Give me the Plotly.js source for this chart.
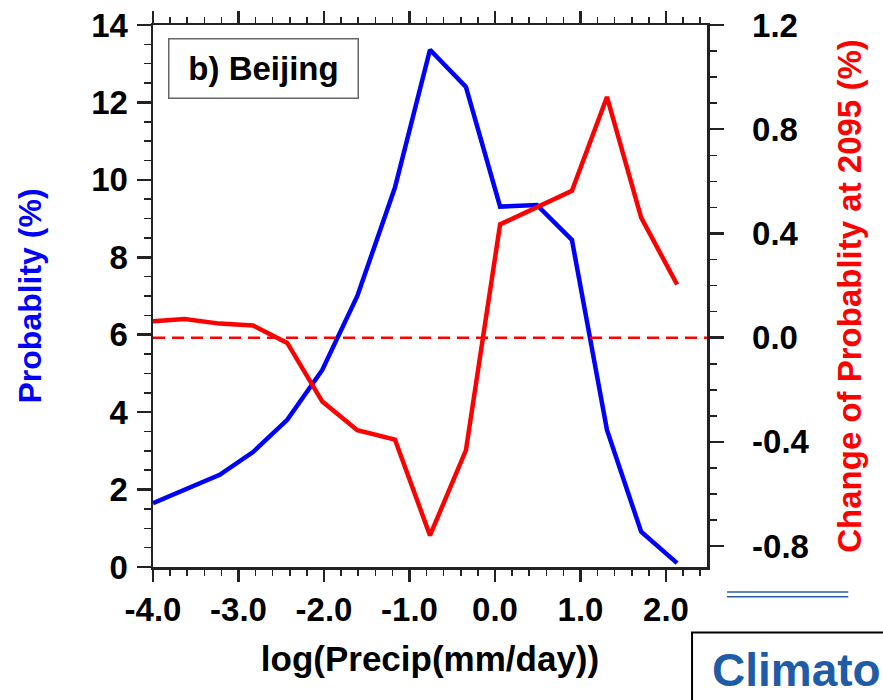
<!DOCTYPE html>
<html>
<head>
<meta charset="utf-8">
<script src="https://cdn.plot.ly/plotly-3.0.1.min.js"></script>
<style>html,body{margin:0;padding:0;background:#fff;}#chart{width:883px;height:700px;}</style>
</head>
<body>
<div id="chart"></div>
<script>
// x positions: log(Precip(mm/day)) bin values
const logPrecip = [-4.0, -3.63, -3.22, -2.83, -2.43, -2.02, -1.61, -1.17, -0.76, -0.34, 0.06, 0.49, 0.90, 1.31, 1.71, 2.13];
// Probability (%) — blue, left axis
const probability = [1.65, 1.99, 2.38, 2.97, 3.80, 5.09, 7.0, 9.8, 13.36, 12.4, 9.31, 9.35, 8.45, 3.54, 0.91, 0.10];
// Change of probability at 2095 (%) — red, right axis
const changeProb = [0.063, 0.072, 0.054, 0.047, -0.020, -0.245, -0.355, -0.391, -0.759, -0.432, 0.435, 0.50, 0.564, 0.924, 0.461, 0.204];

const xTickVals = [-4, -3, -2, -1, 0, 1, 2];
const xTickText = ["-4.0", "-3.0", "-2.0", "-1.0", "0.0", "1.0", "2.0"];
const yTickVals = [0, 2, 4, 6, 8, 10, 12, 14];
const yTickText = ["0", "2", "4", "6", "8", "10", "12", "14"];
const y2TickVals = [-0.8, -0.4, 0, 0.4, 0.8, 1.2];
const y2TickText = ["-0.8", "-0.4", "0.0", "0.4", "0.8", "1.2"];

const FONT = "Liberation Sans, Arial, sans-serif";
const AX = "#222";

const traces = [
  {x: logPrecip, y: probability, type: "scatter", mode: "lines", yaxis: "y",
   line: {color: "#0000ff", width: 4.5}, hoverinfo: "skip", showlegend: false},
  {x: logPrecip, y: changeProb, type: "scatter", mode: "lines", yaxis: "y2",
   line: {color: "#ff0000", width: 4.5}, hoverinfo: "skip", showlegend: false}
];

const layout = {
  width: 883, height: 700,
  margin: {l: 153, r: 176, t: 25, b: 133},
  paper_bgcolor: "#fff", plot_bgcolor: "#fff",
  showlegend: false,
  font: {family: FONT, color: "#000"},
  xaxis: {
    range: [-4, 2.48], tickmode: "array", tickvals: xTickVals, ticktext: xTickText,
    showgrid: false, zeroline: false, showline: true, linecolor: AX, linewidth: 2.5,
    mirror: "ticks", ticks: "outside", ticklen: 12, tickwidth: 2.5, tickcolor: AX,
    ticklabelstandoff: 0,
    tickfont: {family: FONT, size: 33, weight: "bold", color: "#000"},
    minor: {tick0: -4, dtick: 0.2, ticks: "outside", ticklen: 6, tickwidth: 1.5, tickcolor: AX, showgrid: false},
    title: {text: "log(Precip(mm/day))", font: {family: FONT, size: 35, weight: "bold", color: "#000"}, standoff: 20}
  },
  yaxis: {
    range: [0, 14], tickmode: "array", tickvals: yTickVals, ticktext: yTickText,
    showgrid: false, zeroline: false, showline: true, linecolor: AX, linewidth: 2.5,
    ticks: "outside", ticklen: 14, tickwidth: 2.5, tickcolor: AX,
    ticklabelstandoff: 2,
    tickfont: {family: FONT, size: 33, weight: "bold", color: "#000"},
    minor: {tick0: 0, dtick: 0.5, ticks: "outside", ticklen: 7, tickwidth: 1.5, tickcolor: AX, showgrid: false},
    title: {text: "Probablity (%)", font: {family: FONT, size: 32, weight: "bold", color: "#0000ff"}, standoff: 40}
  },
  yaxis2: {
    overlaying: "y", side: "right", anchor: "x",
    range: [-0.88, 1.2], tickmode: "array", tickvals: y2TickVals, ticktext: y2TickText,
    showgrid: false, zeroline: false, showline: true, linecolor: AX, linewidth: 2.5,
    ticks: "outside", ticklen: 14, tickwidth: 2.5, tickcolor: AX,
    ticklabelstandoff: 22,
    tickfont: {family: FONT, size: 33, weight: "bold", color: "#000"},
    minor: {tick0: -0.8, dtick: 0.1, ticks: "outside", ticklen: 7, tickwidth: 1.5, tickcolor: AX, showgrid: false},
    title: {text: "Change of Probablity at 2095 (%)", font: {family: FONT, size: 33, weight: "bold", color: "#ff0000"}, standoff: 30}
  },
  shapes: [
    {type: "line", xref: "paper", x0: 0, x1: 1, yref: "y2", y0: 0, y1: 0,
     line: {color: "#ff0000", width: 2.5, dash: "12px,7px"}},
    {type: "line", xref: "paper", yref: "paper", x0: 1.036, x1: 1.255, y0: -0.046, y1: -0.046,
     line: {color: "#2a5caa", width: 1.5}},
    {type: "line", xref: "paper", yref: "paper", x0: 1.036, x1: 1.255, y0: -0.055, y1: -0.055,
     line: {color: "#2a5caa", width: 1.5}},
    {type: "rect", xref: "paper", yref: "paper", x0: 0.973, x1: 1.35, y0: -0.121, y1: -0.3,
     line: {color: "#000", width: 2}, fillcolor: "rgba(0,0,0,0)"}
  ],
  annotations: [
    {xref: "paper", yref: "paper", x: 0.027, y: 0.976, xanchor: "left", yanchor: "top",
     text: "b) Beijing", showarrow: false, align: "center",
     font: {family: FONT, size: 33, weight: "bold", color: "#000"},
     bordercolor: "#666", borderwidth: 1.5, borderpad: 0, bgcolor: "#fff", width: 188, height: 58},
    {xref: "paper", yref: "paper", x: 1.006, y: -0.138, xanchor: "left", yanchor: "top",
     text: "Climato", showarrow: false,
     font: {family: FONT, size: 46, weight: "bold", color: "#1f5ca8"}}
  ]
};

Plotly.newPlot("chart", traces, layout, {staticPlot: true, displayModeBar: false});
</script>
</body>
</html>
